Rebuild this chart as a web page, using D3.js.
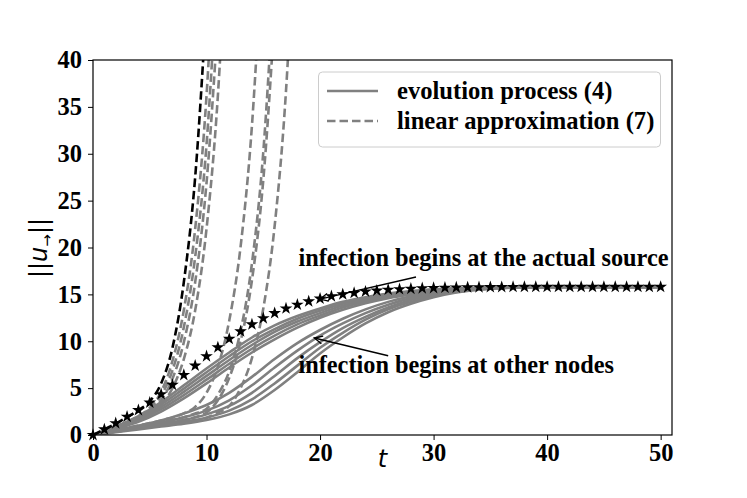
<!DOCTYPE html>
<html>
<head>
<meta charset="utf-8">
<script src="https://cdn.jsdelivr.net/npm/d3@7"></script>
<style>
body { margin: 0; background: #fff; }
svg text { font-family: "Liberation Serif", "Times New Roman", serif; font-weight: bold; }
</style>
</head>
<body>
<svg id="chart" width="747" height="498"></svg>
<script>
// Data
const xTicks = [0, 10, 20, 30, 40, 50];
const yTicks = [0, 5, 10, 15, 20, 25, 30, 35, 40];

// actual source (stars), one value per t = 0..50
const starY = [0, 0.6, 1.25, 1.95, 2.65, 3.45, 4.35, 5.35, 6.4, 7.4,
  8.4, 9.35, 10.25, 11.05, 11.8, 12.45, 13.0, 13.5, 13.9, 14.25,
  14.55, 14.8, 15.0, 15.15, 15.3, 15.4, 15.5, 15.55, 15.6, 15.65,
  15.68, 15.71, 15.73, 15.75, 15.76, 15.77, 15.78, 15.79, 15.8, 15.8,
  15.8, 15.8, 15.8, 15.8, 15.8, 15.8, 15.8, 15.8, 15.8, 15.8, 15.8];

// evolution process, other sources (solid gray)
const solidT = [0, 2, 4, 6, 8, 10, 12, 14, 16, 18, 20, 22, 24, 26, 28, 30, 32, 35, 40, 50];
const solidY = [
  [0, 0.9, 2.0, 3.5, 5.3, 7.1, 8.8, 10.4, 11.7, 12.7, 13.5, 14.2, 14.7, 15.1, 15.35, 15.55, 15.65, 15.75, 15.8, 15.8],
  [0, 0.85, 1.85, 3.25, 4.95, 6.7, 8.4, 10.0, 11.3, 12.4, 13.25, 14.0, 14.55, 15.0, 15.3, 15.5, 15.62, 15.72, 15.8, 15.8],
  [0, 0.8, 1.7, 3.0, 4.6, 6.3, 8.0, 9.6, 11.0, 12.1, 13.0, 13.8, 14.4, 14.85, 15.2, 15.45, 15.6, 15.7, 15.8, 15.8],
  [0, 0.7, 1.55, 2.75, 4.25, 5.9, 7.6, 9.2, 10.6, 11.8, 12.75, 13.6, 14.25, 14.75, 15.1, 15.4, 15.55, 15.7, 15.8, 15.8],
  [0, 0.65, 1.4, 2.5, 3.9, 5.5, 7.2, 8.8, 10.2, 11.45, 12.5, 13.35, 14.05, 14.6, 15.0, 15.3, 15.5, 15.68, 15.78, 15.8],
  [0, 0.5, 1.0, 1.55, 2.3, 3.2, 4.5, 6.2, 8.1, 9.8, 11.2, 12.4, 13.4, 14.2, 14.8, 15.2, 15.5, 15.7, 15.8, 15.8],
  [0, 0.45, 0.9, 1.35, 1.9, 2.6, 3.7, 5.3, 7.2, 9.0, 10.6, 11.9, 13.0, 13.9, 14.6, 15.05, 15.4, 15.65, 15.8, 15.8],
  [0, 0.4, 0.8, 1.2, 1.6, 2.2, 3.1, 4.5, 6.3, 8.2, 9.9, 11.4, 12.6, 13.6, 14.4, 14.95, 15.35, 15.65, 15.8, 15.8],
  [0, 0.35, 0.7, 1.05, 1.4, 1.85, 2.6, 3.8, 5.5, 7.4, 9.3, 10.9, 12.3, 13.4, 14.2, 14.8, 15.25, 15.6, 15.78, 15.8],
  [0, 0.3, 0.6, 0.9, 1.2, 1.6, 2.2, 3.2, 4.8, 6.7, 8.7, 10.4, 11.9, 13.1, 14.0, 14.7, 15.2, 15.6, 15.78, 15.8]
];

// linear approximation, actual source (black dashed)
const blackDashT = [0, 1, 2, 3, 4, 5, 6, 7, 8, 9, 10];
const blackDashY = [0, 0.6, 1.2, 1.9, 2.65, 3.6, 5.5, 9.3, 16.3, 27.5, 46];

// linear approximation, other sources (gray dashed)
const grayDashT = [
  [0, 2, 4, 5, 6, 7, 8, 9, 10, 11],
  [0, 2, 4, 5, 6, 7, 8, 9, 10, 11],
  [0, 2, 4, 5, 6, 7, 8, 9, 10, 11],
  [0, 2, 4, 5, 6, 7, 8, 9, 10, 11, 12],
  [0, 2, 4, 6, 8, 9, 10, 11, 12, 13, 14, 15],
  [0, 2, 4, 6, 8, 9, 10, 11, 12, 13, 14, 15, 16],
  [0, 2, 4, 6, 8, 9, 10, 11, 12, 13, 14, 15, 16],
  [0, 2, 4, 6, 8, 10, 11, 12, 13, 14, 15, 16, 17, 18]
];
const grayDashY = [
  [0, 0.9, 2.0, 2.9, 4.6, 7.9, 13.3, 22, 36.2, 59.7],
  [0, 0.85, 1.9, 2.7, 4.2, 6.9, 11.5, 19, 31, 51],
  [0, 0.8, 1.8, 2.5, 3.7, 6.0, 9.9, 16.3, 26.9, 44.3],
  [0, 0.75, 1.65, 2.3, 3.2, 5.0, 8.1, 13.3, 22, 36.2, 59.7],
  [0, 0.5, 1.0, 1.55, 2.3, 3.0, 4.5, 7.3, 12.2, 20.1, 33, 54],
  [0, 0.45, 0.9, 1.35, 1.9, 2.3, 2.8, 4.3, 6.8, 11.1, 18.3, 30.2, 49.8],
  [0, 0.4, 0.8, 1.2, 1.6, 1.9, 2.4, 3.7, 6.1, 10.0, 16.5, 27.2, 44.8],
  [0, 0.35, 0.7, 1.05, 1.4, 1.85, 2.4, 3.1, 5.0, 8.2, 13.5, 22.3, 36.7, 60.5]
];

const legendLabels = ["evolution process (4)", "linear approximation (7)"];
const noteLabels = ["infection begins at the actual source", "infection begins at other nodes"];
// [text x, text y, arrow tail x, tail y, arrow head x, head y] in data units
const noteAnchors = [
  [18.1, 18.0, 28.45, 16.85, 20, 14.5],
  [18.1, 6.6, 26.0, 8.45, 19.5, 10.35]
];

// Layout
const svg = d3.select("#chart");
const padL = 93, padR = 672, padT = 60, padB = 435;
const x = d3.scaleLinear().domain([0, 51]).range([padL, padR]);
const y = d3.scaleLinear().domain([0, 40]).range([padB, padT]);
const gray = "#808080";
const lw = 2.6, dash = "8.5,4";

svg.append("defs").append("clipPath").attr("id", "plotClip")
  .append("rect").attr("x", padL).attr("y", padT)
  .attr("width", padR - padL).attr("height", padB - padT);

const line = d3.line()
  .x(d => x(d[0]))
  .y(d => y(d[1]))
  .curve(d3.curveMonotoneX);

const plot = svg.append("g").attr("clip-path", "url(#plotClip)");

// solid curves
solidY.forEach(vals => {
  plot.append("path")
    .attr("d", line(solidT.map((t, i) => [t, vals[i]])))
    .attr("fill", "none").attr("stroke", gray).attr("stroke-width", lw);
});

// gray dashed
grayDashY.forEach((vals, k) => {
  plot.append("path")
    .attr("d", line(grayDashT[k].map((t, i) => [t, vals[i]])))
    .attr("fill", "none").attr("stroke", gray).attr("stroke-width", lw)
    .attr("stroke-dasharray", dash);
});

// black dashed
plot.append("path")
  .attr("d", line(blackDashT.map((t, i) => [t, blackDashY[i]])))
  .attr("fill", "none").attr("stroke", "#000").attr("stroke-width", lw)
  .attr("stroke-dasharray", dash);

// stars
const star = d3.symbol().type(d3.symbolStar).size(50);
svg.append("g").selectAll("path")
  .data(starY)
  .enter().append("path")
  .attr("d", star)
  .attr("transform", (d, i) => `translate(${x(i)},${y(d)})`)
  .attr("fill", "#000");

// Axes
const xAxis = svg.append("g")
  .attr("transform", `translate(0,${padB})`)
  .call(d3.axisBottom(x).tickValues(xTicks).tickSize(5).tickPadding(4));
const yAxis = svg.append("g")
  .attr("transform", `translate(${padL},0)`)
  .call(d3.axisLeft(y).tickValues(yTicks).tickSize(5).tickPadding(6));
[xAxis, yAxis].forEach(a => {
  a.select(".domain").remove();
  a.selectAll("line").attr("stroke", "#000").attr("stroke-width", 1);
  a.selectAll("text").attr("fill", "#000")
    .style("font-size", "24.5px").style("font-family", "'Liberation Serif', serif").style("font-weight", "bold");
});

svg.append("rect")
  .attr("x", padL).attr("y", padT)
  .attr("width", padR - padL).attr("height", padB - padT)
  .attr("fill", "none").attr("stroke", "#000").attr("stroke-width", 1.2);

// axis labels
svg.append("text")
  .attr("x", (padL + padR) / 2).attr("y", 467)
  .attr("text-anchor", "middle")
  .style("font-family", "'DejaVu Sans', sans-serif").style("font-weight", "normal")
  .style("font-style", "italic").style("font-size", "24px")
  .text("t");

const yLab = svg.append("text")
  .attr("transform", "translate(47,248) rotate(-90)")
  .attr("text-anchor", "middle")
  .style("font-family", "'DejaVu Sans', sans-serif").style("font-weight", "normal")
  .style("font-size", "24px");
yLab.append("tspan").text("||");
yLab.append("tspan").style("font-style", "italic").text("u");
yLab.append("tspan").attr("dy", 5).style("font-size", "15px").text("\u2192");
yLab.append("tspan").attr("dy", -5).text("||");

// Legend
const legend = svg.append("g");
legend.append("rect")
  .attr("x", 318.5).attr("y", 72).attr("width", 342).attr("height", 75)
  .attr("rx", 4).attr("fill", "#fff").attr("fill-opacity", 0.8)
  .attr("stroke", "#cccccc").attr("stroke-width", 1);
legendLabels.forEach((label, i) => {
  const ly = 91 + i * 30;
  legend.append("line")
    .attr("x1", 327).attr("x2", 378).attr("y1", ly).attr("y2", ly)
    .attr("stroke", gray).attr("stroke-width", lw)
    .attr("stroke-dasharray", i === 1 ? dash : null);
  legend.append("text")
    .attr("x", 397).attr("y", ly + 7.5)
    .attr("fill", "#000").style("font-size", "24.6px")
    .text(label);
});

// Annotations
noteAnchors.forEach((a, i) => {
  svg.append("text")
    .attr("x", x(a[0])).attr("y", y(a[1]))
    .attr("fill", "#000").style("font-size", "24.3px")
    .text(noteLabels[i]);
  const x1 = x(a[2]), y1 = y(a[3]), x2 = x(a[4]), y2 = y(a[5]);
  svg.append("line")
    .attr("x1", x1).attr("y1", y1).attr("x2", x2).attr("y2", y2)
    .attr("stroke", "#000").attr("stroke-width", 1.4);
  const ang = Math.atan2(y1 - y2, x1 - x2);
  const len = 9, spread = 0.45;
  svg.append("path")
    .attr("d", `M${x2 + len * Math.cos(ang + spread)},${y2 + len * Math.sin(ang + spread)}L${x2},${y2}L${x2 + len * Math.cos(ang - spread)},${y2 + len * Math.sin(ang - spread)}`)
    .attr("fill", "none").attr("stroke", "#000").attr("stroke-width", 1.4);
});
</script>
</body>
</html>
